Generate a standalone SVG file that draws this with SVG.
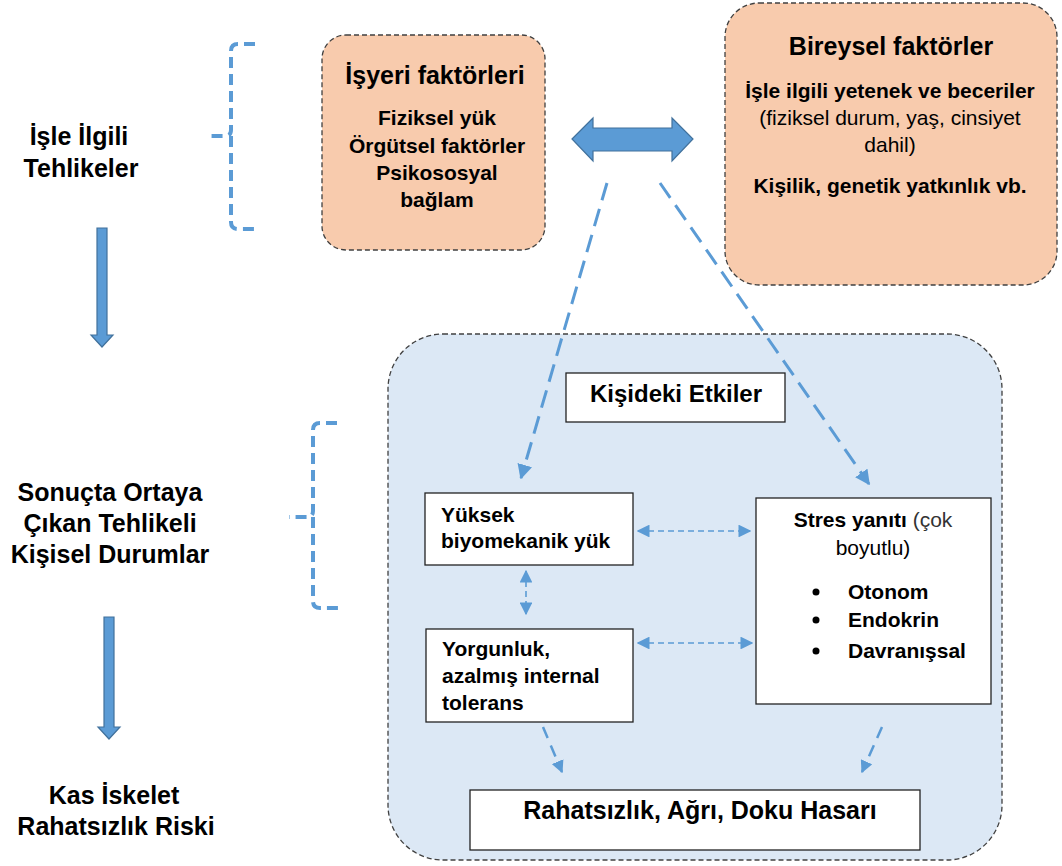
<svg xmlns="http://www.w3.org/2000/svg" width="1062" height="866" viewBox="0 0 1062 866">
<defs>
<style>
text{font-family:"Liberation Sans",Arial,sans-serif;fill:#000}
.b{font-weight:bold}
.c{text-anchor:middle}
.lbl{font-size:25px;font-weight:bold;text-anchor:middle}
.dbox{stroke:#404040;stroke-width:1.3;stroke-dasharray:5 3}
.wbox{fill:#fff;stroke:#222;stroke-width:1.3}
.brk{fill:none;stroke:#5b9bd5;stroke-width:4;stroke-dasharray:11 6}
.bigarr{fill:#5b9bd5;stroke:#41719c;stroke-width:1.2}
.dl{fill:none;stroke:#5b9bd5;stroke-width:3;stroke-dasharray:18 9}
.ds{fill:none;stroke:#5b9bd5;stroke-width:1.6;stroke-dasharray:6 4}
.ds2{fill:none;stroke:#5b9bd5;stroke-width:2.5;stroke-dasharray:12 8}
</style>
<marker id="ah" viewBox="0 0 10 10" refX="9" refY="5" markerWidth="5" markerHeight="5" orient="auto-start-reverse" markerUnits="strokeWidth"><path d="M0,0 L10,5 L0,10 z" fill="#5b9bd5"/></marker>
<marker id="ahs" viewBox="0 0 10 10" refX="9" refY="5" markerWidth="8" markerHeight="8" orient="auto-start-reverse" markerUnits="strokeWidth"><path d="M0,0 L10,5 L0,10 z" fill="#5b9bd5"/></marker>
</defs>

<g id="left-labels">
<text class="lbl" x="79" y="145">İşle İlgili</text>
<text class="lbl" x="81" y="177">Tehlikeler</text>
<text class="lbl" x="110" y="501">Sonuçta Ortaya</text>
<text class="lbl" x="110" y="532">Çıkan Tehlikeli</text>
<text class="lbl" x="110" y="563">Kişisel Durumlar</text>
<text class="lbl" x="114" y="804">Kas İskelet</text>
<text class="lbl" x="116" y="835">Rahatsızlık Riski</text>
</g>

<g id="flow-arrows">
<path class="bigarr" d="M97,228 H107 V335 H113 L102,347 L91,335 H97 Z"/>
<path class="bigarr" d="M104,617 H114 V727 H120 L109,739 L98,727 H104 Z"/>
</g>

<g id="brackets">
<path class="brk" d="M255,44 H238 Q231,44 231,51 V130 Q231,136 225,136 H207 M231,136 V222 Q231,229 238,229 H256"/>
<path class="brk" d="M337,423 H320 Q313,423 313,430 V511 Q313,517 307,517 H289 M313,517 V601 Q313,608 320,608 H338"/>
</g>

<g id="isyeri">
<rect class="dbox" x="322" y="35" width="223" height="215" rx="24" fill="#f8cbad"/>
<text class="c b" x="435" y="84" font-size="25">İşyeri faktörleri</text>
<text class="c b" x="437" y="125" font-size="21">Fiziksel yük</text>
<text class="c b" x="437" y="153" font-size="21">Örgütsel faktörler</text>
<text class="c b" x="437" y="180" font-size="21">Psikososyal</text>
<text class="c b" x="437" y="207" font-size="21">bağlam</text>
</g>

<g id="bireysel">
<rect class="dbox" x="725" y="3" width="332" height="282" rx="34" fill="#f8cbad"/>
<text class="c b" x="891" y="55" font-size="25">Bireysel faktörler</text>
<text class="c b" x="890" y="98" font-size="21">İşle ilgili yetenek ve beceriler</text>
<text class="c" x="890" y="125" font-size="21" fill="#333">(fiziksel durum, yaş, cinsiyet</text>
<text class="c" x="890" y="152" font-size="21" fill="#333">dahil)</text>
<text class="c b" x="890" y="193" font-size="21">Kişilik, genetik yatkınlık vb.</text>
</g>

<g id="double-arrow">
<path class="bigarr" d="M572,139 L593,118 V128 H672 V118 L693,139 L672,161 V151 H593 V161 Z"/>
</g>

<g id="etkiler-area">
<rect class="dbox" x="388" y="334" width="614" height="526" rx="55" fill="#dce8f5"/>
</g>

<g id="connectors">
<line class="dl" x1="607" y1="183" x2="521" y2="478" marker-end="url(#ah)"/>
<line class="dl" x1="660" y1="183" x2="869" y2="484" marker-end="url(#ah)"/>
<line class="ds" x1="638" y1="531" x2="750" y2="531" marker-start="url(#ahs)" marker-end="url(#ahs)"/>
<line class="ds" x1="638" y1="643" x2="752" y2="643" marker-start="url(#ahs)" marker-end="url(#ahs)"/>
<line class="ds" x1="526" y1="571" x2="526" y2="614" marker-start="url(#ahs)" marker-end="url(#ahs)"/>
<line class="ds2" x1="543" y1="727" x2="562" y2="772" marker-end="url(#ah)"/>
<line class="ds2" x1="882" y1="727" x2="862" y2="772" marker-end="url(#ah)"/>
</g>

<g id="kisideki">
<rect class="wbox" x="566" y="373" width="219" height="49"/>
<text class="c b" x="676" y="402" font-size="24">Kişideki Etkiler</text>
</g>

<g id="yuksek">
<rect class="wbox" x="425" y="493" width="208" height="72"/>
<text class="b" x="441" y="522" font-size="21">Yüksek</text>
<text class="b" x="441" y="548" font-size="21">biyomekanik yük</text>
</g>

<g id="yorgunluk">
<rect class="wbox" x="426" y="629" width="207" height="93"/>
<text class="b" x="442" y="656" font-size="21">Yorgunluk,</text>
<text class="b" x="442" y="683" font-size="21">azalmış internal</text>
<text class="b" x="442" y="710" font-size="21">tolerans</text>
</g>

<g id="stres">
<rect class="wbox" x="756" y="498" width="235" height="206"/>
<text class="c" x="873" y="527" font-size="21"><tspan class="b">Stres yanıtı</tspan><tspan fill="#333"> (çok</tspan></text>
<text class="c" x="873" y="555" font-size="21" fill="#333">boyutlu)</text>
<circle cx="816" cy="592" r="3.5"/>
<circle cx="816" cy="620" r="3.5"/>
<circle cx="816" cy="651" r="3.5"/>
<text class="b" x="848" y="599" font-size="21">Otonom</text>
<text class="b" x="848" y="627" font-size="21">Endokrin</text>
<text class="b" x="848" y="658" font-size="21">Davranışsal</text>
</g>

<g id="rahatsizlik">
<rect class="wbox" x="470" y="790" width="450" height="60"/>
<text class="c b" x="700" y="819" font-size="25">Rahatsızlık, Ağrı, Doku Hasarı</text>
</g>
</svg>
